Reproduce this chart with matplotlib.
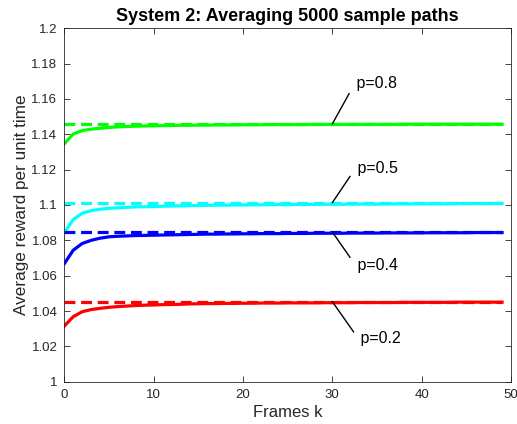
import matplotlib
matplotlib.use("Agg")
import matplotlib.pyplot as plt
import numpy as np

plt.rcParams['font.family'] = ['Liberation Sans', 'DejaVu Sans']

frames = np.arange(50)

# running averages of reward per unit time, k = 0..49
avg_p08 = [1.1346, 1.1402, 1.1421, 1.1429, 1.1434, 1.1439, 1.1442, 1.1444, 1.1446, 1.1447,
           1.1448, 1.1449, 1.1450, 1.1451, 1.1451, 1.1452, 1.1452, 1.1453, 1.1453, 1.1453,
           1.1454, 1.1454, 1.1454, 1.1455, 1.1455, 1.1455, 1.1455, 1.1455, 1.1456, 1.1456,
           1.1456, 1.1456, 1.1456, 1.1456, 1.1456, 1.1456, 1.1456, 1.1456, 1.1457, 1.1457,
           1.1457, 1.1457, 1.1457, 1.1457, 1.1457, 1.1457, 1.1457, 1.1457, 1.1457, 1.1457]
avg_p05 = [1.0842, 1.0918, 1.0953, 1.0968, 1.0976, 1.0981, 1.0984, 1.0987, 1.0989, 1.0990,
           1.0991, 1.0993, 1.0994, 1.0995, 1.0996, 1.0997, 1.0998, 1.0999, 1.0999, 1.1000,
           1.1000, 1.1001, 1.1001, 1.1002, 1.1002, 1.1002, 1.1003, 1.1003, 1.1003, 1.1004,
           1.1004, 1.1004, 1.1005, 1.1005, 1.1005, 1.1005, 1.1006, 1.1006, 1.1006, 1.1006,
           1.1007, 1.1007, 1.1007, 1.1007, 1.1008, 1.1008, 1.1008, 1.1008, 1.1008, 1.1009]
avg_p04 = [1.0668, 1.0744, 1.0782, 1.0800, 1.0812, 1.0820, 1.0823, 1.0825, 1.0827, 1.0828,
           1.0829, 1.0830, 1.0831, 1.0832, 1.0833, 1.0834, 1.0835, 1.0835, 1.0836, 1.0836,
           1.0837, 1.0837, 1.0838, 1.0838, 1.0838, 1.0839, 1.0839, 1.0839, 1.0840, 1.0840,
           1.0840, 1.0840, 1.0841, 1.0841, 1.0841, 1.0841, 1.0842, 1.0842, 1.0842, 1.0842,
           1.0842, 1.0843, 1.0843, 1.0843, 1.0843, 1.0843, 1.0844, 1.0844, 1.0844, 1.0844]
avg_p02 = [1.0315, 1.0368, 1.0396, 1.0408, 1.0415, 1.0421, 1.0425, 1.0428, 1.0431, 1.0433,
           1.0434, 1.0436, 1.0437, 1.0438, 1.0440, 1.0441, 1.0442, 1.0442, 1.0443, 1.0443,
           1.0444, 1.0444, 1.0445, 1.0445, 1.0445, 1.0446, 1.0446, 1.0446, 1.0446, 1.0447,
           1.0447, 1.0447, 1.0447, 1.0448, 1.0448, 1.0448, 1.0448, 1.0448, 1.0449, 1.0449,
           1.0449, 1.0449, 1.0449, 1.0449, 1.0450, 1.0450, 1.0450, 1.0450, 1.0450, 1.0450]

# theoretical long-run values (dashed)
limits = [1.1459, 1.1013, 1.0847, 1.0453]
labels = ['p=0.8', 'p=0.5', 'p=0.4', 'p=0.2']
colors = ['#00ff00', '#00ffff', '#0000ff', '#ff0000']
series = [avg_p08, avg_p05, avg_p04, avg_p02]

# label text centres and where the leader line meets the text box
label_pos = [(32.2, 1.1689), (32.3, 1.1207), (32.3, 1.0655), (32.7, 1.0246)]
label_rel = [(0, 0.15), (0, 0.25), (0, 0.8), (0, 0.65)]

fig = plt.figure(figsize=(5.17, 4.24), dpi=100)
ax = fig.add_axes([0.1244, 0.0998, 0.864, 0.8335])

for vals, lim, col in zip(series, limits, colors):
    ax.plot(frames, [lim] * len(frames), color=col, lw=2.3, dashes=(3.4, 1.8))
    ax.plot(frames, vals, color=col, lw=2.3)

for lab, lim, pos, rel in zip(labels, limits, label_pos, label_rel):
    # leading space leaves a small gap between leader line and text
    ax.annotate(' ' + lab, xy=(30, lim), xytext=pos, fontsize=11.5, ha='left', va='center',
                arrowprops=dict(arrowstyle='-', color='black', lw=1.0,
                                shrinkA=0, shrinkB=0, relpos=rel))

ax.set_xlim(0, 50)
ax.set_ylim(1, 1.2)
ax.set_xticks(np.arange(0, 51, 10))
ax.set_yticks(np.arange(1, 1.2001, 0.02))
ax.set_yticklabels(['1', '1.02', '1.04', '1.06', '1.08', '1.1', '1.12',
                    '1.14', '1.16', '1.18', '1.2'])
ax.tick_params(direction='in', top=True, right=True, length=4, width=0.6,
               colors='#262626', labelsize=9.5, labelcolor='#262626', pad=5)
for sp in ax.spines.values():
    sp.set_color('#262626')
    sp.set_linewidth(0.6)

ax.set_xlabel('Frames k', fontsize=12, color='#262626', labelpad=3)
ax.set_ylabel('Average reward per unit time', fontsize=12.3, color='#262626', labelpad=2)
ax.set_title('System 2: Averaging 5000 sample paths', fontsize=13, fontweight='bold', pad=5)

fig.savefig('out.png', dpi=100)
